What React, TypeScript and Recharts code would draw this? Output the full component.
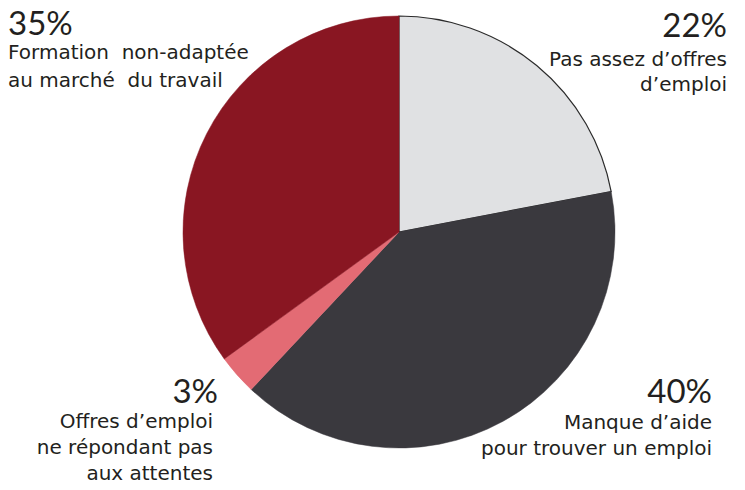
import { PieChart, Pie, Cell } from 'recharts';

// slices, clockwise from the top
const categories = [
    'Pas assez d’offres d’emploi',
    'Manque d’aide pour trouver un emploi',
    'Offres d’emploi ne répondant pas aux attentes',
    'Formation non-adaptée au marché du travail',
];
const shares = [22, 40, 3, 35];
const percentLabels = ['22%', '40%', '3%', '35%'];
const labelLines = [
    ['Pas assez d’offres', 'd’emploi'],
    ['Manque d’aide', 'pour trouver un emploi'],
    ['Offres d’emploi', 'ne répondant pas', 'aux attentes'],
    ['Formation  non-adaptée', 'au marché  du travail'],
];

const COLORS = ['#e0e1e3', '#3a393e', '#e36b74', '#891622'];

// where each label block sits (corner of the chart)
const LABEL_POS = [
    { x: 727, pctY: 37, y: 66, gap: 25, anchor: 'end', pctX: 727 },
    { x: 712, pctY: 403, y: 429, gap: 26, anchor: 'end', pctX: 712 },
    { x: 213, pctY: 403, y: 428, gap: 26, anchor: 'end', pctX: 218 },
    { x: 8, pctY: 35, y: 59, gap: 28, anchor: 'start', pctX: 8 },
];

const data = categories.map((name, i) => ({ name, value: shares[i] }));

const FONT = '"DejaVu Sans", sans-serif';
const PCT_FONT = 'Lato, sans-serif';

function renderLabel(props: any) {
    const i = props.index;
    const p = LABEL_POS[i];
    return (
        <g key={`lbl-${i}`}>
            <text x={p.pctX} y={p.pctY} textAnchor={p.anchor} fontSize={33} fill="#231f20" fontFamily={PCT_FONT}>
                {percentLabels[i]}
            </text>
            {labelLines[i].map((line, j) => (
                <text
                    key={j}
                    x={p.x}
                    y={p.y + j * p.gap}
                    textAnchor={p.anchor}
                    fontSize={20}
                    fill="#231f20"
                    fontFamily={FONT}
                    style={{ whiteSpace: 'pre' }}
                >
                    {line}
                </text>
            ))}
        </g>
    );
}

export default function App() {
    return (
        <div style={{ position: 'absolute', left: 0, top: 0, background: '#fff' }}>
            <PieChart width={745} height={490} margin={{ top: 0, right: 0, bottom: 0, left: 0 }}>
                <Pie
                    data={data}
                    dataKey="value"
                    nameKey="name"
                    cx={399}
                    cy={232}
                    outerRadius={216}
                    startAngle={90}
                    endAngle={-270}
                    labelLine={false}
                    label={renderLabel}
                    isAnimationActive={false}
                >
                    {data.map((entry, index) => (
                        <Cell
                            key={`cell-${index}`}
                            fill={COLORS[index]}
                            stroke={index === 0 ? '#2a2a2a' : COLORS[index]}
                            strokeWidth={index === 0 ? 1.2 : 0.5}
                        />
                    ))}
                </Pie>
            </PieChart>
        </div>
    );
}
